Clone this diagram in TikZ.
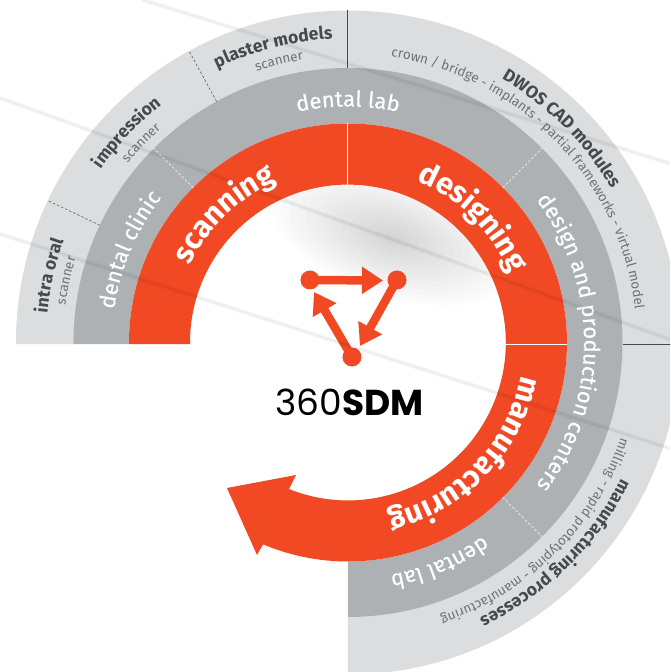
\documentclass[tikz,border=0pt]{standalone}
\usepackage{fontspec}
\usetikzlibrary{decorations.text,arrows.meta}
\setmainfont{Fira Sans}
\newfontfamily\logofont{Poppins}
\newfontfamily\midfont[FakeBold=0.2]{Fira Sans}
\definecolor{orangeR}{HTML}{F04923}
\definecolor{grayR}{HTML}{AEB1B4}
\definecolor{lightR}{HTML}{DCDDDF}
\definecolor{inkB}{HTML}{47494B}
\definecolor{inkT}{HTML}{6F7173}
\newcommand\fmtScan{\fontsize{30.5}{31}\selectfont\bfseries\color{white}}
\newcommand\fmtMid{\midfont\fontsize{22}{22}\selectfont\color{white}}
\newcommand\fmtBold{\fontsize{17.5}{17.5}\selectfont\bfseries\color{inkB}}
\newcommand\fmtThin{\fontsize{13.4}{13.4}\selectfont\color{inkT}}
\newcommand\rtext[4]{\path[decorate,decoration={text along path,text align=center,text={|#3|#4}}] (#1+85:#2) arc (#1+85:#1-85:#2);}
\tikzset{
  sepdash/.style={inkB,line width=0.5pt,dash pattern=on 2.5pt off 2pt},
  sepwhite/.style={white,line width=0.6pt,dash pattern=on 2.5pt off 2pt},
  sepsolid/.style={inkB,line width=0.6pt},
  logodot/.style={circle,fill=orangeR,minimum size=19pt,inner sep=0pt},
  logoarrow/.style={orangeR,line width=8.5pt,-{Triangle[length=21pt,width=26pt]}},
  streak/.style={black,opacity=0.022,line cap=round}
}
\begin{document}
\begin{tikzpicture}[x=1pt,y=1pt]
\useasboundingbox (-348,-329.5) rectangle (322,342.5);
\clip (-348,-329.5) rectangle (322,342.5);
\fill[white] (-348,-329.5) rectangle (322,342.5);
% smudge in the centre
\foreach \r in {1,...,14}{
  \fill[black,opacity=0.012,rotate around={-18:(45,105)}] (45,105) ellipse ({\r*9} and {\r*4.2});
}
% outer rings
\begin{scope}[even odd rule]
\clip (-400,-1.5) -- (0,-1.5) -- (0,-400) -- (400,-400) -- (400,400) -- (-400,400) -- cycle;
\fill[lightR] (0,0) circle (332) (0,0) circle (274);
\fill[grayR] (0,0) circle (274.5) (0,0) circle (219);
\end{scope}
% orange ring with arrow head
\fill[orangeR] (180.4:219) arc (180.4:-112.8:219) -- (-91,-212.5) -- (-121,-145.5) -- (-52,-132.5) -- (-59,-146.5)
  arc (-111.9:180.55:157.9) -- cycle;
% separators
\draw[sepdash] (154.7:274.5) -- (154.7:332);
\draw[sepdash] (118.6:274.5) -- (118.6:332);
\draw[sepwhite] (135:219) -- (135:274.5);
\draw[sepwhite] (45:219) -- (45:274.5);
\draw[sepwhite] (-45:219) -- (-45:274.5);
\draw[sepsolid] (-0.5,274.5) -- (-0.5,332.5);
\draw[sepsolid] (274.5,-1.5) -- (330,-1.5);
\draw[white,line width=0.7pt] (-0.5,157.5) -- (-0.5,219);
\draw[white,line width=0.7pt] (157.5,-1.5) -- (219,-1.5);
% inner ring labels
\rtext{134}{176}{\fmtScan}{scanning}
\rtext{45}{176}{\fmtScan}{designing}
\rtext{-44}{176}{\fmtScan}{manufacturing}
% middle ring labels
\rtext{157}{236}{\fmtMid}{dental clinic}
\rtext{90}{236}{\fmtMid}{dental lab}
\rtext{0}{236}{\fmtMid}{design and production centers}
\rtext{-67.4}{236}{\fmtMid}{dental lab}
% outer ring labels
\rtext{167.4}{302}{\fmtBold}{intra oral}
\rtext{167.6}{285}{\fmtThin}{scanner}
\rtext{136.5}{302}{\fmtBold}{impression}
\rtext{136}{284}{\fmtThin}{scanner}
\rtext{104.2}{304}{\fmtBold}{plaster models}
\rtext{103.8}{286}{\fmtThin}{scanner}
\rtext{45}{305}{\fmtBold}{DWOS CAD modules}
\rtext{44}{289}{\fmtThin}{crown / bridge - implants - partial frameworks - virtual model}
\rtext{-45.5}{305}{\fmtBold}{manufacturing processes}
\rtext{-45.3}{289}{\fmtThin}{milling - rapid prototyping - manufacturing}
% logo
\node[logodot] (dotA) at (-38,62.5) {};
\node[logodot] (dotB) at (49,62.5) {};
\node[logodot] (dotC) at (4,-14.5) {};
\coordinate (tipA) at (35,62);
\coordinate (tipB) at (12,-3.5);
\coordinate (tipC) at (-34,50.5);
\draw[logoarrow] (dotA.center) -- (tipA);
\draw[logoarrow] (dotB.center) -- (tipB);
\draw[logoarrow] (dotC.center) -- (tipC);
\node[anchor=base,inner sep=0pt,font=\logofont\fontsize{36}{36}\selectfont] (logotext) at (1.5,-72.5) {360\textbf{SDM}};
% scan streaks
\foreach \w in {1.5,3,5}{
  \draw[streak,line width=\w pt] (-348,108.5) -- (322,-105.9);
  \draw[streak,line width=\w pt] (-348,244.5) -- (322,3);
  \draw[streak,line width=\w pt] (-205,342.5) -- (322,179);
}
\end{tikzpicture}
\end{document}
